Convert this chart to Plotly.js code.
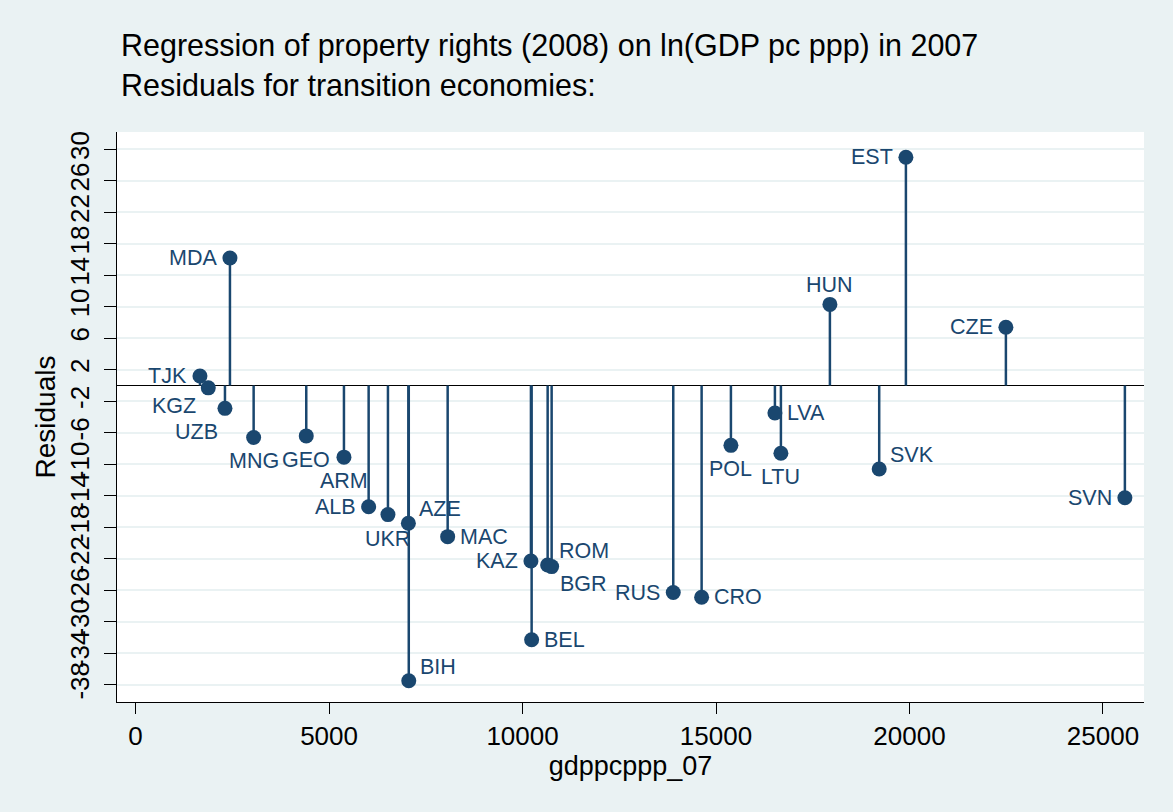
<!DOCTYPE html>
<html>
<head>
<meta charset="utf-8">
<script src="https://cdn.plot.ly/plotly-3.0.1.min.js"></script>
<style>
  html, body { margin: 0; padding: 0; background: #eaf2f3; }
  #chart { width: 1173px; height: 812px; }
</style>
</head>
<body>
<div id="chart"></div>
<script>
// ---- Data ----
const countries = ['MDA','TJK','KGZ','UZB','MNG','GEO','ARM','ALB','UKR','AZE','BIH','MAC','KAZ','BEL','ROM','BGR','RUS','CRO','POL','LVA','LTU','HUN','EST','SVK','CZE','SVN'];
const gdppcppp_07 = [2439,1664,1879,2310,3051,4411,5385,6023,6522,7050,7060,8065,10217,10235,10649,10752,13895,14628,15385,16522,16677,17943,19907,19217,22491,25566];
const residuals = [16.2,1.2,-0.3,-2.9,-6.6,-6.4,-9.1,-15.4,-16.4,-17.5,-37.5,-19.2,-22.3,-32.3,-22.8,-23.0,-26.3,-26.9,-7.6,-3.5,-8.6,10.3,29.0,-10.6,7.4,-14.25];
const xTicks = [0,5000,10000,15000,20000,25000];
const yTicks = [-38,-34,-30,-26,-22,-18,-14,-10,-6,-2,2,6,10,14,18,22,26,30];
const titleLine1 = 'Regression of property rights (2008) on ln(GDP pc ppp) in 2007';
const titleLine2 = 'Residuals for transition economies:';
const xTitle = 'gdppcppp_07';
const yTitle = 'Residuals';

// ---- Styling ----
const NAVY = '#1a476f';
const BG = '#eaf2f3';
const FONT = 'Liberation Sans, Arial, Helvetica, sans-serif';

// marker-label clock positions (as in Stata mlabvposition)
const labelClock = {MDA:9,TJK:9,KGZ:8,UZB:7,MNG:6,GEO:6,ARM:6,ALB:9,UKR:6,AZE:2,BIH:2,MAC:3,KAZ:9,BEL:3,ROM:2,BGR:4,RUS:9,CRO:3,POL:6,LVA:3,LTU:6,HUN:12,EST:9,SVK:2,CZE:9,SVN:9};
const clockStyle = {
  9:  {xanchor:'right',  xshift:-12, yshift:0},
  3:  {xanchor:'left',   xshift:11,  yshift:0},
  12: {xanchor:'center', xshift:0,   yshift:19},
  6:  {xanchor:'center', xshift:0,   yshift:-24},
  2:  {xanchor:'left',   xshift:10,  yshift:14},
  4:  {xanchor:'left',   xshift:7,   yshift:-17},
  8:  {xanchor:'right',  xshift:-11, yshift:-18},
  7:  {xanchor:'right',  xshift:-6,  yshift:-24}
};

// stems from 0 to residual, built from the data
const stemX = [], stemY = [];
gdppcppp_07.forEach((x, i) => { stemX.push(x, x, null); stemY.push(0, residuals[i], null); });

const traces = [
  {type:'scatter', mode:'lines', x:stemX, y:stemY, line:{color:NAVY, width:2.5}, hoverinfo:'skip', showlegend:false},
  {type:'scatter', mode:'markers', x:gdppcppp_07, y:residuals, text:countries,
   marker:{color:NAVY, size:15, line:{width:0}}, showlegend:false}
];

const annotations = countries.map((c, i) => {
  const s = clockStyle[labelClock[c]];
  return {x:gdppcppp_07[i], y:residuals[i], xref:'x', yref:'y', text:c, showarrow:false,
    xanchor:s.xanchor, yanchor:'middle', xshift:s.xshift, yshift:s.yshift, borderpad:0,
    font:{family:FONT, size:21.5, color:NAVY}};
});

const layout = {
  width:1173, height:812,
  paper_bgcolor:BG, plot_bgcolor:'white',
  font:{family:FONT, color:'black'},
  margin:{l:117, r:29, t:132, b:110},
  title:{text:titleLine1 + '<br>' + titleLine2, xref:'container', yref:'container', x:121/1173, xanchor:'left',
         y:1-56/812, yanchor:'top', font:{family:FONT, size:30.5, color:'black'}},
  xaxis:{range:[-480,26060], tickvals:xTicks, ticktext:xTicks.map(String), ticks:'outside', ticklen:11,
         tickwidth:1, tickcolor:'black', showline:true, linecolor:'black', linewidth:1, showgrid:false,
         zeroline:false, tickfont:{size:26, color:'black'},
         title:{text:xTitle, standoff:0, font:{size:27, color:'black'}}},
  yaxis:{range:[-40.2,32.2], tickvals:yTicks, ticktext:yTicks.map(String), ticks:'outside', ticklen:12,
         tickwidth:1, tickcolor:'black', tickangle:-90, ticklabelstandoff:5, showline:true, linecolor:'black', linewidth:1,
         showgrid:true, gridcolor:BG, gridwidth:2, zeroline:true, zerolinecolor:'black', zerolinewidth:1,
         tickfont:{size:26, color:'black'},
         title:{text:yTitle, standoff:0, font:{size:28, color:'black'}}},
  annotations:annotations,
  hovermode:false
};

Plotly.newPlot('chart', traces, layout, {displayModeBar:false, staticPlot:true});
</script>
</body>
</html>
